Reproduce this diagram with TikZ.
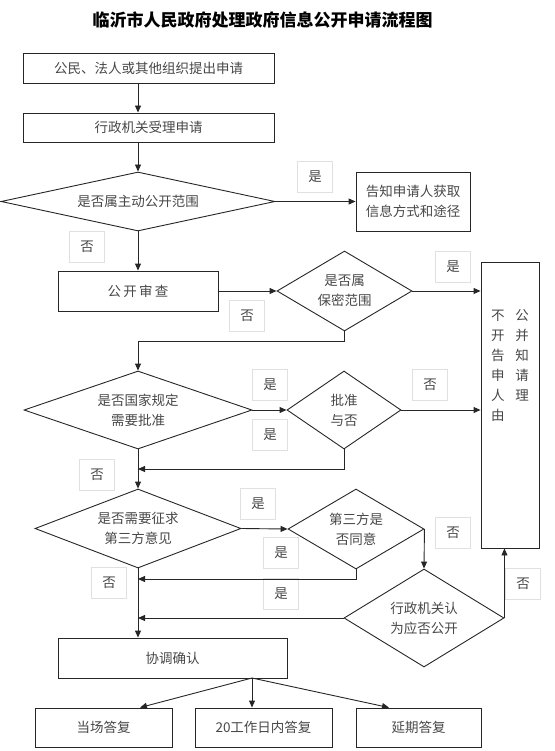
\documentclass[tikz,border=0pt]{standalone}
\usepackage{fontspec}
\setmainfont{Noto Sans CJK SC}
\usetikzlibrary{shapes.geometric,arrows.meta}

\begin{document}
\begin{tikzpicture}[x=1pt,y=-1pt,line width=0.9pt,color=black!85,
  every node/.style={font=\fontsize{13.5}{20}\selectfont,text=black!72,align=center,inner sep=0pt},
  box/.style={draw},
  ask/.style={draw,diamond},
  yn/.style={draw=black!12,line width=0.6pt,minimum width=35,minimum height=31},
  >={Triangle[length=7pt,width=6pt]}]
\useasboundingbox (0,0) rectangle (554,751);
\node[font=\bfseries\fontsize{17}{20}\selectfont,text=black] (title) at (262.5,20) {临沂市人民政府处理政府信息公开申请流程图};
\node[box,minimum width=251,minimum height=30] (apply) at (148.5,68) {公民、法人或其他组织提出申请};
\node[box,minimum width=251,minimum height=29] (accept) at (148.5,127.5) {行政机关受理申请};
\node[ask,minimum width=274,minimum height=59,aspect=4.6] (d1) at (138,201.5) {是否属主动公开范围};
\node[box,minimum width=114,minimum height=59] (tell) at (413,201.5) {告知申请人获取\\信息方式和途径};
\node[box,minimum width=160,minimum height=40] (review) at (138,291) {公\,开\,审\,查};
\node[ask,minimum width=135,minimum height=80,aspect=1.7] (d2) at (344.5,291) {是否属\\保密范围};
\node[box,minimum width=58,minimum height=286] (refuse) at (510,405) {};
\node[align=left] (refusetext) at (510,366) {不\hspace{11pt}公\\开\hspace{11pt}并\\告\hspace{11pt}知\\申\hspace{11pt}请\\人\hspace{11pt}理\\由};
\node[ask,minimum width=228,minimum height=78,aspect=2.9] (d3) at (138,410) {是否国家规定\\需要批准};
\node[ask,minimum width=114,minimum height=78,aspect=1.46] (d4) at (344,410) {批准\\与否};
\node[ask,minimum width=206,minimum height=79,aspect=2.6] (d5) at (138,528.5) {是否需要征求\\第三方意见};
\node[ask,minimum width=136,minimum height=80,aspect=1.7] (d6) at (356,529) {第三方是\\否同意};
\node[ask,minimum width=160,minimum height=98,aspect=1.63] (d7) at (424,618) {行政机关认\\为应否公开};
\node[box,minimum width=229,minimum height=40] (settle) at (172.5,658) {协调确认};
\node[box,minimum width=137,minimum height=39] (now) at (103.5,727.5) {当场答复};
\node[box,minimum width=137,minimum height=39] (mid) at (263.5,727.5) {20工作日内答复};
\node[box,minimum width=125,minimum height=39] (later) at (418.5,727.5) {延期答复};
\coordinate (j1) at (138,469);
\coordinate (j2) at (138,579);
\coordinate (j3) at (138,618);
\coordinate (fan) at (252,678);
\node[yn] (yes1) at (315,177) {是};
\node[yn] (no1) at (87,247) {否};
\node[yn] (yes2) at (453,267) {是};
\node[yn] (no2) at (247,316) {否};
\node[yn] (yes3) at (270,385) {是};
\node[yn] (yes4) at (270,435) {是};
\node[yn] (no3) at (430,385) {否};
\node[yn] (no4) at (97,475) {否};
\node[yn] (yes5) at (258,504) {是};
\node[yn] (yes6) at (281,553) {是};
\node[yn] (no5) at (109,583) {否};
\node[yn] (yes7) at (281,594) {是};
\node[yn] (no6) at (453,533) {否};
\node[yn] (no7) at (523,584) {否};
\draw[->] (apply.south -| d1.north) -- (accept.north -| d1.north);
\draw[->] (accept.south -| d1.north) -- (d1.north);
\draw[->] (d1.east) -- (tell.west);
\draw[->] (d1.south) -- (review.north);
\draw[->] (review.east) -- (d2.west);
\draw[->] (d2.east) -- (d2.east -| refuse.west);
\draw[->] (d2.south) -- ++(0,10) -| (d3.north);
\draw[->] (d3.east) -- (d4.west);
\draw[->] (d4.east) -- (d4.east -| refuse.west);
\draw[->] (d4.south) |- (j1);
\draw[->] (d3.south) -- (d5.north);
\draw[->] (d5.east) -- (d6.west);
\draw[->] (d6.south) |- (j2);
\draw[->] (d6.east) -- (d7.north);
\draw[->] (d7.west) -- (j3);
\draw[->] (d7.east) -- (d7.east |- refuse.south);
\draw[->] (d5.south) -- (settle.north -| d5.south);
\draw[->] (fan) -- ([xshift=36.5pt]now.north);
\draw[->] (fan) -- (fan |- mid.north);
\draw[->] (fan) -- ([xshift=-29.5pt]later.north);
\end{tikzpicture}
\end{document}
